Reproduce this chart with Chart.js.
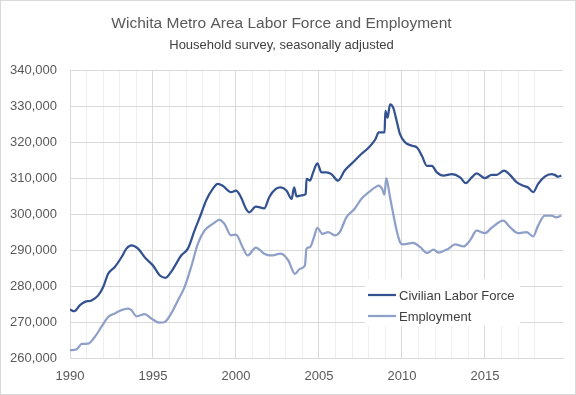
<!DOCTYPE html>
<html>
<head>
<meta charset="utf-8">
<script src="https://cdn.jsdelivr.net/npm/chart.js@4/dist/chart.umd.min.js"></script>
<style>
  html, body { margin: 0; padding: 0; background: #fff; }
  #wrap { width: 576px; height: 395px; position: relative; }
</style>
</head>
<body>
<div id="wrap"><canvas id="myChart" width="576" height="395"></canvas></div>
<script>
// decimal years and values
var laborForceYears = [1990.0, 1990.26, 1990.6, 1990.9, 1991.3, 1991.7, 1992.0, 1992.3, 1992.7, 1993.1, 1993.4, 1993.7, 1994.1, 1994.5, 1995.0, 1995.4, 1995.75, 1996.1, 1996.7, 1997.1, 1997.5, 1997.9, 1998.2, 1998.6, 1998.9, 1999.2, 1999.7, 2000.0, 2000.3, 2000.6, 2000.8, 2001.2, 2001.7, 2002.0, 2002.4, 2002.7, 2003.05, 2003.35, 2003.5, 2003.65, 2003.95, 2004.2, 2004.25, 2004.45, 2004.65, 2004.9, 2005.15, 2005.45, 2005.75, 2006.15, 2006.55, 2007.05, 2007.55, 2008.0, 2008.4, 2008.6, 2008.95, 2009.0, 2009.13, 2009.28, 2009.47, 2009.68, 2009.88, 2010.2, 2010.6, 2010.9, 2011.2, 2011.5, 2011.8, 2012.1, 2012.5, 2013.0, 2013.5, 2013.85, 2014.2, 2014.5, 2015.0, 2015.4, 2015.7, 2016.15, 2016.5, 2016.9, 2017.3, 2017.6, 2017.9, 2018.2, 2018.6, 2019.0, 2019.2, 2019.4, 2019.6];
var laborForce = [273500, 273000, 274700, 275600, 276000, 277400, 279750, 283400, 285300, 288000, 290400, 291300, 290400, 288000, 285700, 283000, 282300, 284000, 288500, 290400, 295400, 300100, 303800, 307000, 308400, 307900, 306100, 306500, 304700, 301500, 300500, 302100, 301600, 304700, 307000, 307400, 306500, 304200, 307400, 304900, 305200, 305600, 309800, 309300, 311600, 314100, 311600, 311600, 311100, 309300, 312100, 314400, 316700, 318500, 320800, 322700, 322700, 328700, 326800, 330500, 329600, 325900, 322200, 319900, 319000, 318500, 316200, 313400, 313400, 311600, 310700, 311100, 310200, 308600, 310200, 311300, 310000, 310900, 310900, 312100, 310900, 308900, 307900, 307400, 306100, 308400, 310400, 311100, 310900, 310400, 310700];

var employmentYears = [1990.0, 1990.4, 1990.7, 1991.1, 1991.5, 1991.9, 1992.3, 1992.7, 1993.1, 1993.5, 1993.7, 1994.0, 1994.5, 1994.9, 1995.4, 1995.7, 1996.1, 1996.5, 1996.9, 1997.3, 1997.7, 1998.1, 1998.6, 1999.0, 1999.3, 1999.7, 2000.0, 2000.4, 2000.7, 2001.2, 2001.7, 2002.1, 2002.7, 2003.15, 2003.55, 2003.85, 2004.15, 2004.25, 2004.45, 2004.7, 2004.9, 2005.2, 2005.55, 2005.95, 2006.25, 2006.65, 2007.15, 2007.55, 2008.0, 2008.4, 2008.6, 2008.8, 2008.95, 2009.05, 2009.28, 2009.47, 2009.68, 2009.88, 2010.07, 2010.67, 2011.1, 2011.5, 2011.9, 2012.2, 2012.8, 2013.2, 2013.7, 2014.1, 2014.5, 2015.0, 2015.4, 2016.1, 2016.5, 2017.0, 2017.5, 2017.9, 2018.2, 2018.6, 2019.0, 2019.3, 2019.6];
var employment = [262200, 262400, 263900, 264000, 265900, 268700, 271400, 272400, 273300, 273700, 273300, 271600, 272200, 271000, 269800, 270000, 272400, 276000, 279700, 285300, 291700, 295400, 297300, 298400, 297300, 294100, 294300, 290800, 288500, 290700, 289000, 288500, 289000, 287100, 283400, 284800, 285700, 290400, 290800, 293600, 296200, 294500, 295000, 294100, 295000, 299100, 301500, 304200, 306100, 307500, 307900, 307000, 305400, 310000, 304700, 300100, 295400, 292200, 291600, 292000, 290800, 289200, 290100, 289300, 290400, 291600, 291000, 292700, 295400, 294700, 296200, 298200, 296400, 294700, 295000, 293800, 296800, 299600, 299600, 299100, 299600];

var seriesNames = ['Civilian Labor Force', 'Employment'];
var seriesColors = ['#34528f', '#8fa0c8'];
var yTicks = [260000, 340000, 10000];

var FONT = '"Liberation Sans", Arial, sans-serif';

function toPoints(xs, ys) {
  return xs.map(function (x, i) { return { x: x, y: ys[i] }; });
}

var frame = {
  id: 'frame',
  beforeDraw: function (chart) {
    var c = chart.ctx;
    c.save();
    c.fillStyle = '#fff';
    c.fillRect(0, 0, chart.width, chart.height);
    c.strokeStyle = '#d9d9d9';
    c.lineWidth = 1;
    c.strokeRect(0.5, 0.5, chart.width - 1, chart.height - 1);
    c.restore();
  }
};

// legend sitting inside the plot, on a white box
var insideLegend = {
  id: 'insideLegend',
  afterDatasetsDraw: function (chart) {
    var c = chart.ctx;
    c.save();
    c.fillStyle = '#fff';
    c.fillRect(365, 279, 155, 47);
    c.font = '13px ' + FONT;
    c.textBaseline = 'middle';
    chart.data.datasets.forEach(function (ds, i) {
      var y = 295 + i * 21;
      c.strokeStyle = ds.borderColor;
      c.lineWidth = 2.25;
      c.beginPath();
      c.moveTo(368, y);
      c.lineTo(396, y);
      c.stroke();
      c.fillStyle = '#404040';
      c.fillText(ds.label, 399, y + 1);
    });
    c.restore();
  }
};

var ctx = document.getElementById('myChart').getContext('2d');
var myChart = new Chart(ctx, {
  type: 'line',
  data: {
    datasets: [{
      label: seriesNames[0],
      data: toPoints(laborForceYears, laborForce),
      borderColor: seriesColors[0],
      borderWidth: 2.25,
      pointRadius: 0,
      cubicInterpolationMode: 'monotone'
    }, {
      label: seriesNames[1],
      data: toPoints(employmentYears, employment),
      borderColor: seriesColors[1],
      borderWidth: 2.25,
      pointRadius: 0,
      cubicInterpolationMode: 'monotone'
    }]
  },
  options: {
    responsive: false,
    animation: false,
    layout: { padding: { left: 0, right: 13, top: 14, bottom: 0 } },
    plugins: {
      legend: { display: false },
      tooltip: { enabled: false },
      title: {
        display: true,
        text: 'Wichita Metro Area Labor Force and Employment',
        color: '#595959',
        font: { family: FONT, size: 15.5, weight: 'normal' },
        padding: { top: 0, bottom: 5 }
      },
      subtitle: {
        display: true,
        text: 'Household survey, seasonally adjusted',
        color: '#404040',
        font: { family: FONT, size: 13, weight: 'normal' },
        padding: { top: 0, bottom: 17 }
      }
    },
    scales: {
      x: {
        type: 'linear',
        min: 1990,
        max: 2019.7,
        grid: {
          drawTicks: false,
          color: function (c) {
            var v = c.tick && c.tick.value;
            if (v % 1 !== 0) return 'rgba(0,0,0,0)';
            return v % 5 === 0 ? '#d9d9d9' : '#efefef';
          }
        },
        border: { display: true, color: '#d9d9d9' },
        ticks: {
          stepSize: 1,
          autoSkip: false,
          maxRotation: 0,
          padding: 11,
          color: '#595959',
          font: { family: FONT, size: 13 },
          callback: function (v) { return (v % 5 === 0) ? String(v) : ''; }
        },
        afterFit: function (s) { s.height = 37; }
      },
      y: {
        min: yTicks[0],
        max: yTicks[1],
        grid: { drawTicks: false, color: '#d9d9d9' },
        border: { display: false },
        ticks: {
          stepSize: yTicks[2],
          padding: 13,
          color: '#595959',
          font: { family: FONT, size: 13 },
          callback: function (v) { return v.toLocaleString('en-US'); }
        },
        afterFit: function (s) { s.width = 70; }
      }
    }
  },
  plugins: [frame, insideLegend]
});
</script>
</body>
</html>
